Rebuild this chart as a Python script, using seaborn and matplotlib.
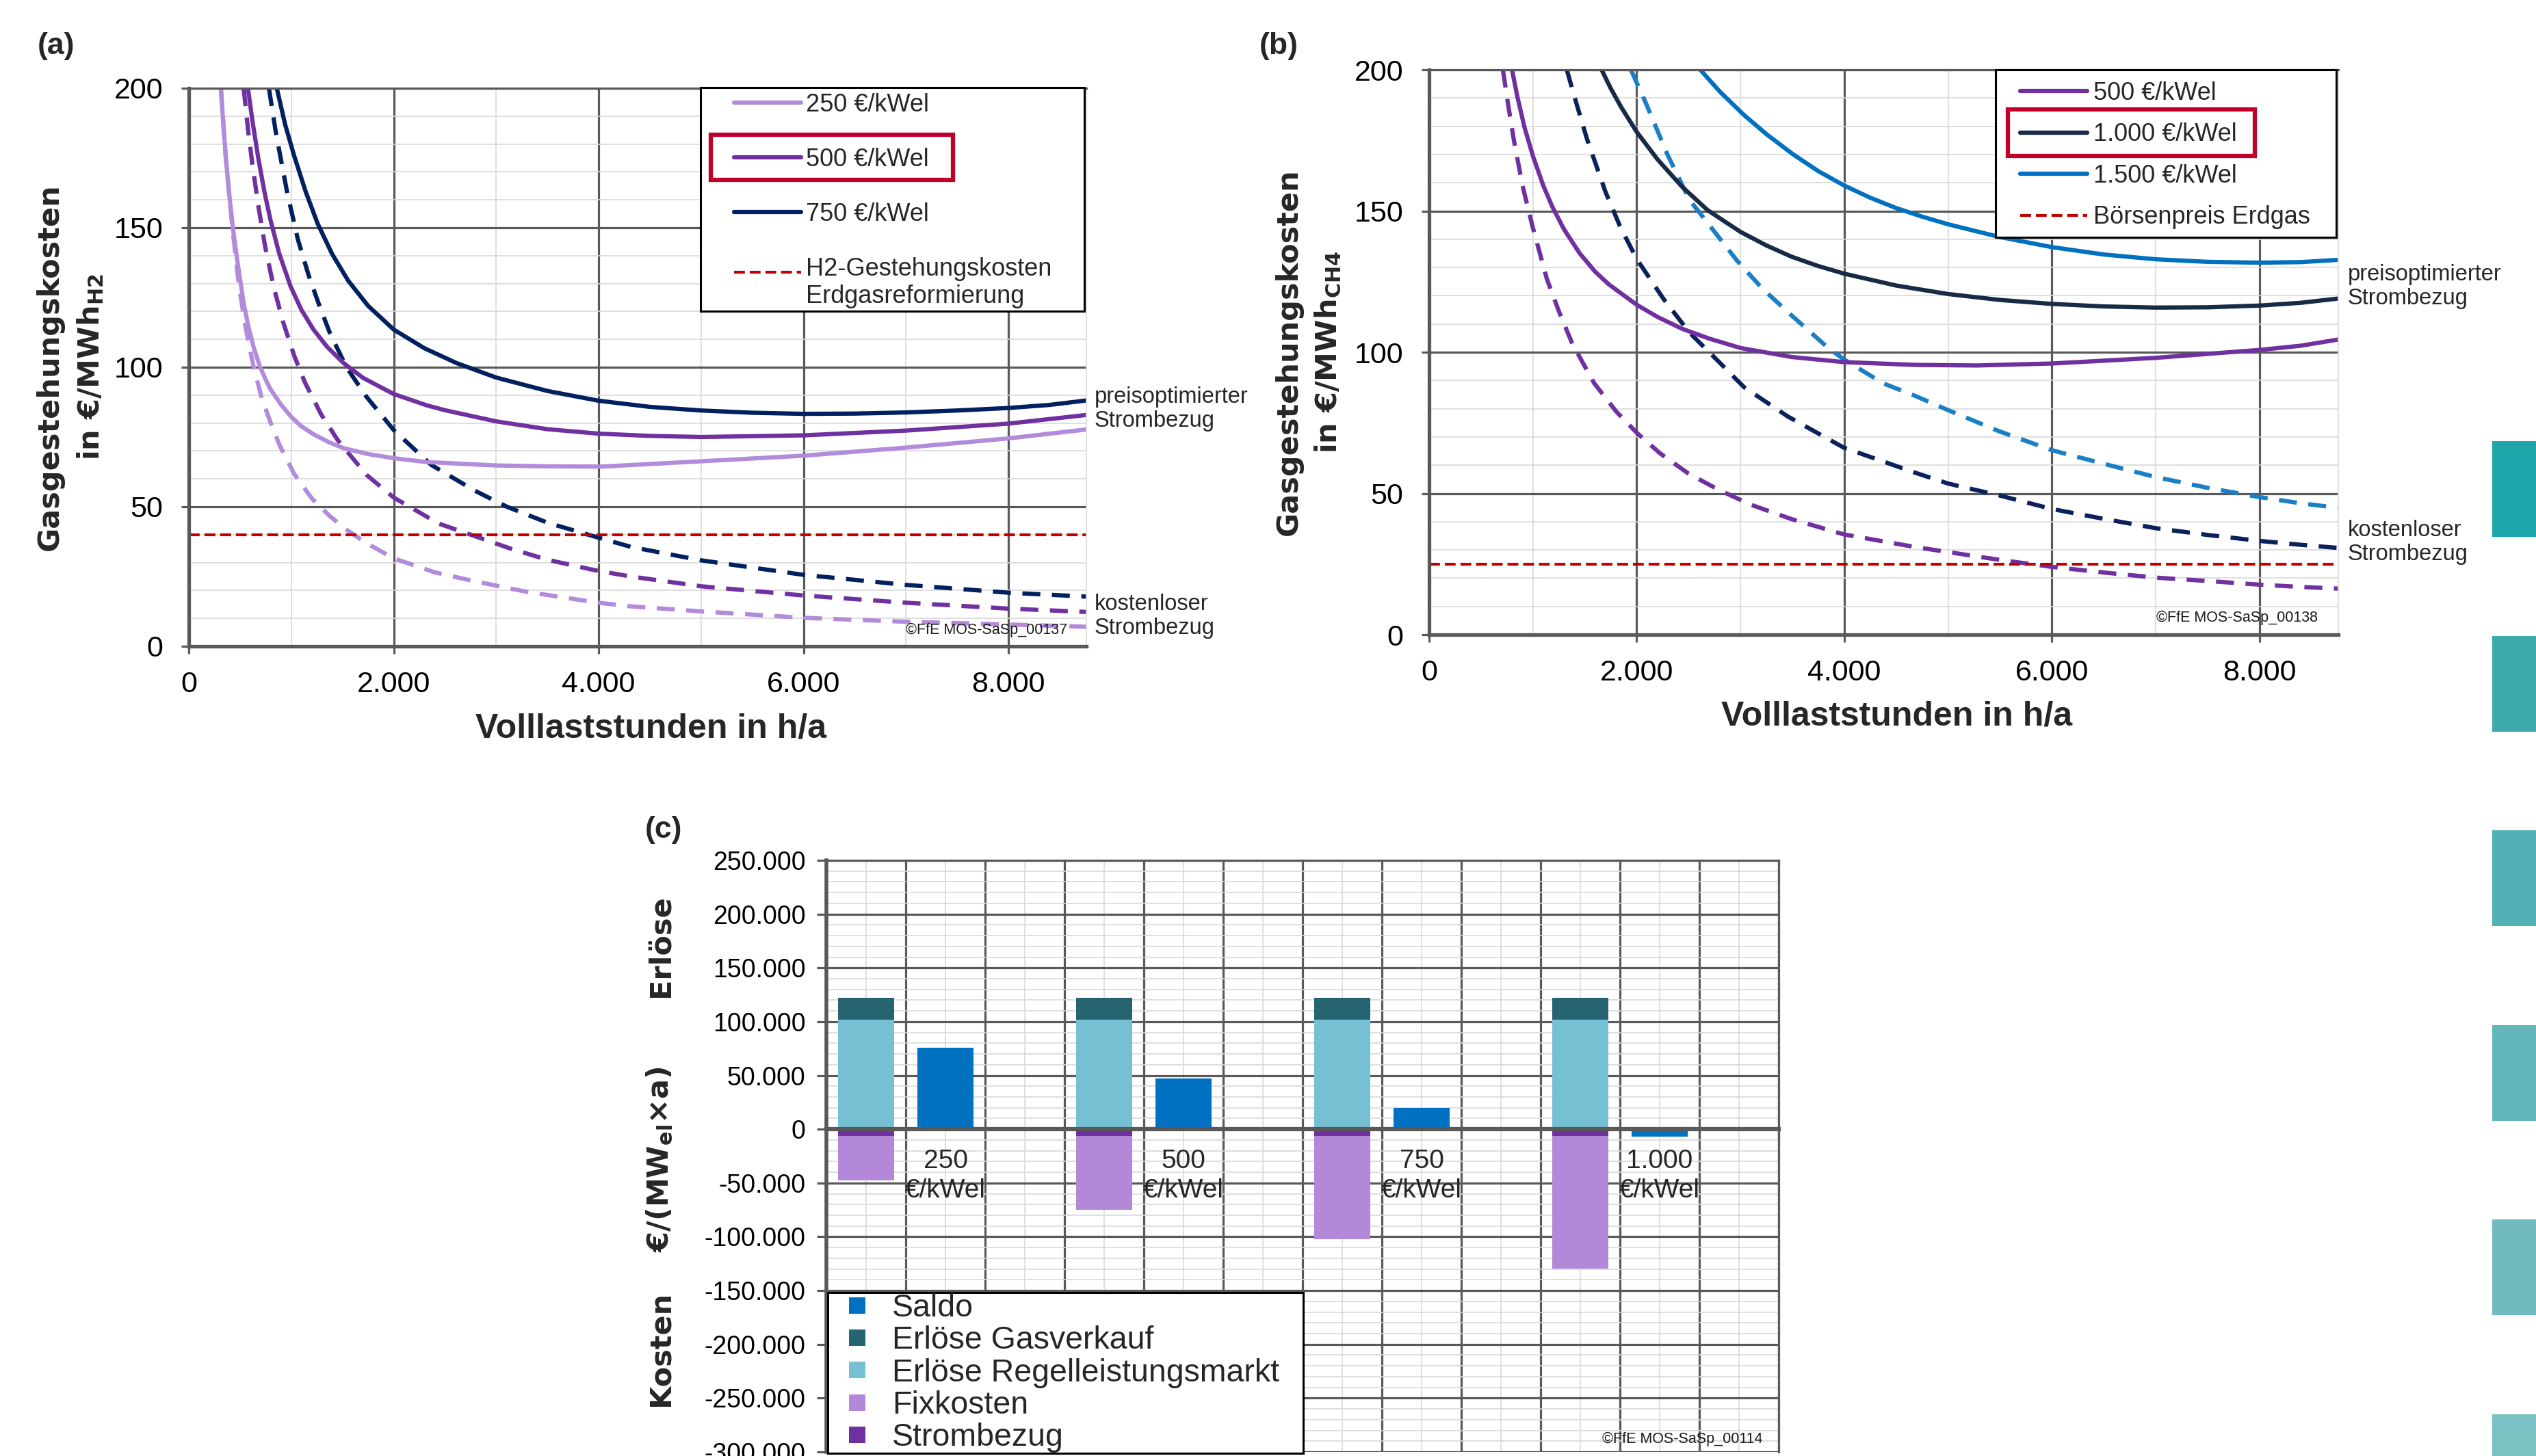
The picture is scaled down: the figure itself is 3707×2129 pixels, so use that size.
import numpy as np
import pandas as pd
import matplotlib
matplotlib.use("Agg")
import matplotlib.pyplot as plt
import seaborn as sns
from matplotlib.lines import Line2D
from matplotlib.patches import Rectangle
from matplotlib.ticker import MultipleLocator, FuncFormatter, NullFormatter

sns.set_style("white")
plt.rcParams["font.family"] = ["Liberation Sans", "DejaVu Sans"]
plt.rcParams["axes.unicode_minus"] = False
plt.rcParams["mathtext.fontset"] = "dejavusans"

W, H = 3707, 2129

# ---------------------------------------------------------
# DATA (a): H2 production cost vs. full-load hours
# ---------------------------------------------------------
a_opt_250_x = [313, 340, 370, 400, 430, 470, 535, 579, 630, 694, 760, 796, 900, 1000, 1100, 1230, 1370, 1510, 1750, 2000, 2327, 3000, 3500, 4031, 5000, 6000, 7000, 8000, 8760]
a_opt_250_y = [200, 185.4, 171.7, 160, 150, 139, 123, 115, 107.5, 100.2, 94.8, 92.2, 86.6, 82.2, 78.8, 75.7, 73.1, 71, 68.9, 67.4, 66, 64.8, 64.5, 64.4, 66.3, 68.3, 71.2, 74.5, 77.7]
a_opt_500_x = [577, 620, 680, 740, 799, 880, 993, 1100, 1217, 1350, 1510, 1700, 2000, 2327, 2500, 3000, 3500, 4000, 4500, 5000, 6000, 7000, 8000, 8760]
a_opt_500_y = [200, 188.5, 174.5, 162.5, 152.5, 141, 129, 120.5, 113.5, 107.3, 101.5, 96.2, 90.4, 86.3, 84.6, 80.6, 77.8, 76.2, 75.4, 75, 75.6, 77.3, 79.8, 82.9]
a_opt_750_x = [859, 940, 1028, 1140, 1257, 1400, 1556, 1750, 2000, 2300, 2613, 3000, 3500, 4000, 4500, 5000, 5500, 6000, 6500, 7000, 7500, 8000, 8400, 8760]
a_opt_750_y = [200, 187, 175.8, 163, 151.5, 140.5, 131, 122, 113.5, 106.8, 101.5, 96.3, 91.5, 88, 85.8, 84.5, 83.7, 83.3, 83.4, 83.8, 84.5, 85.4, 86.5, 88.1]

a_free_250_x = [313, 360, 430, 490, 553, 630, 711, 800, 887, 1028, 1200, 1380, 1550, 1732, 2000, 2400, 2789, 3300, 3996, 4317, 5000, 6000, 7000, 8000, 8760]
a_free_250_y = [200, 175, 148.5, 129, 114.5, 100.5, 89, 80, 72, 61.8, 53, 46.5, 41.5, 37, 31.5, 26.5, 23.3, 19.5, 15.6, 14.3, 12.5, 10.2, 8.8, 7.8, 7.0]
a_free_500_x = [535, 580, 623, 680, 746, 830, 922, 1030, 1134, 1290, 1451, 1732, 2000, 2437, 3141, 3500, 3996, 4317, 5000, 6000, 7000, 8000, 8760]
a_free_500_y = [200, 184.5, 172, 157.5, 143, 128.5, 116, 104, 94.5, 83.2, 74, 61.5, 53.3, 44, 35, 31, 27, 25, 21.5, 18.2, 15.6, 13.5, 12.3]
a_free_750_x = [782, 850, 958, 1063, 1169, 1280, 1380, 1539, 1732, 2000, 2366, 2789, 3105, 3500, 4000, 4317, 5000, 6000, 7000, 8000, 8760]
a_free_750_y = [200, 184, 163, 146, 133, 121.5, 112, 100, 89.5, 77.5, 65, 55.8, 50, 44.3, 38.9, 35.6, 30.8, 25.6, 22, 19.2, 17.8]

a_ref_h2 = 40
a_legend = ["250 €/kWel", "500 €/kWel", "750 €/kWel", "H2-Gestehungskosten\nErdgasreformierung"]

# ---------------------------------------------------------
# DATA (b): CH4 production cost vs. full-load hours
# ---------------------------------------------------------
b_opt_500_x = [799, 850, 920, 1000, 1100, 1187, 1300, 1451, 1600, 1732, 2000, 2200, 2437, 2700, 3000, 3493, 3996, 4686, 5278, 6000, 7000, 8000, 8400, 8760]
b_opt_500_y = [200, 190.5, 179.5, 169.5, 159, 151.5, 143.5, 135, 128.5, 124, 116.8, 112.5, 108.3, 104.8, 101.5, 98.3, 96.5, 95.5, 95.3, 96, 98, 100.8, 102.3, 104.5]
b_opt_1000_x = [1662, 1750, 1850, 2000, 2200, 2437, 2683, 3000, 3250, 3493, 3750, 4000, 4500, 5000, 5500, 6000, 6500, 7000, 7500, 8000, 8400, 8760]
b_opt_1000_y = [200, 193.4, 186.8, 178, 168.3, 158.6, 150.3, 142.6, 137.8, 133.8, 130.5, 127.8, 123.6, 120.6, 118.5, 117.1, 116.2, 115.8, 115.9, 116.5, 117.5, 119]
b_opt_1500_x = [2613, 2800, 3039, 3250, 3505, 3750, 4000, 4250, 4495, 4750, 5000, 5484, 6000, 6500, 7000, 7500, 8000, 8400, 8760]
b_opt_1500_y = [200, 192.3, 183.8, 177.2, 170.1, 164.1, 159, 154.7, 151.1, 148, 145.3, 140.9, 137.2, 134.6, 132.9, 132, 131.7, 131.9, 132.7]

b_free_500_x = [711, 760, 817, 900, 993, 1134, 1250, 1380, 1500, 1591, 1803, 2000, 2225, 2500, 2789, 3100, 3493, 3996, 4686, 5493, 6000, 6500, 7000, 7500, 8000, 8400, 8760]
b_free_500_y = [200, 188, 175, 159, 145, 126, 114.5, 103, 95, 89, 79, 71.5, 64.2, 57, 51.3, 46, 40.9, 35.5, 31, 26.5, 24, 22, 20.2, 19, 17.7, 16.9, 16.3]
b_free_1000_x = [1327, 1400, 1521, 1697, 1838, 2000, 2260, 2507, 2789, 3035, 3458, 3996, 4686, 5000, 5493, 6000, 6500, 7000, 7500, 8000, 8400, 8760]
b_free_1000_y = [200, 190.5, 175.5, 157, 144.7, 133, 118.8, 107, 96.7, 87.6, 77.2, 66.2, 57.3, 53.5, 49.3, 44.5, 41, 37.7, 35.3, 33.2, 31.8, 30.7]
b_free_1500_x = [1944, 2084, 2296, 2507, 2753, 2965, 3211, 3493, 3845, 3996, 4373, 4686, 5000, 5493, 6000, 6500, 7000, 7500, 8000, 8400, 8760]
b_free_1500_y = [200, 188.6, 170, 154, 142.5, 132.5, 122.5, 113, 101.5, 97.5, 89, 84.5, 79.5, 72, 65.3, 60.5, 55.8, 52, 48.7, 46.5, 44.9]

b_ref_gas = 25
b_legend = ["500 €/kWel", "1.000 €/kWel", "1.500 €/kWel", "Börsenpreis Erdgas"]

# ---------------------------------------------------------
# DATA (c): revenues and costs per MWel and year
# ---------------------------------------------------------
c_labels = ["250\n€/kWel", "500\n€/kWel", "750\n€/kWel", "1.000\n€/kWel"]
c_regel = [102000, 102000, 102000, 102000]
c_gas = [20000, 20000, 20000, 20000]
c_strom = [-6000, -6000, -6000, -6000]
c_fix = [-41500, -69000, -96000, -123500]
c_saldo = [76000, 47000, 20000, -7000]
c_legend = ["Saldo", "Erlöse Gasverkauf", "Erlöse Regelleistungsmarkt", "Fixkosten", "Strombezug"]

# ---------------------------------------------------------
# STYLE
# ---------------------------------------------------------
C250, C500, C750 = "#b38bdb", "#7030a0", "#002060"
C1000, C1000_D = "#172a46", "#0b215c"
C1500, C1500_D = "#0070c0", "#1a7fc5"
C_RED, C_HL = "#c00000", "#c00028"
C_SALDO, C_GAS, C_REGEL, C_FIX, C_STROM = "#0070c0", "#266472", "#76c0d4", "#b388d9", "#7030a0"
GRID_DARK, GRID_LIGHT = "#595959", "#d9d9d9"
LW = 4.5
DASH = (0, (4.2, 2.7))
RED_DASH = (0, (3.8, 1.7))
side_colors = ["#1fa6aa", "#3dabae", "#52b1b4", "#63b6b9", "#71bbbe", "#7bc0c3"]


def de_num(v, pos=None):
    return f"{v:,.0f}".replace(",", ".")


def fx(x):
    return x / W


def fy(y):
    return 1 - y / H


fig = plt.figure(figsize=(W / 100, H / 100), dpi=100)
fig.patch.set_facecolor("white")

ax_a = fig.add_axes([fx(276), fy(945), (1588 - 276) / W, (945 - 129) / H])
ax_b = fig.add_axes([fx(2089), fy(928), (3418 - 2089) / W, (928 - 102) / H])
ax_c = fig.add_axes([fx(1208), fy(2123), (2600 - 1208) / W, (2123 - 1258) / H])


def style_curve_axes(ax):
    ax.set_xlim(0, 8760)
    ax.set_ylim(0, 200)
    ax.set_xlabel("")
    ax.set_ylabel("")
    ax.xaxis.set_major_locator(MultipleLocator(2000))
    ax.xaxis.set_minor_locator(MultipleLocator(1000))
    ax.yaxis.set_major_locator(MultipleLocator(50))
    ax.yaxis.set_minor_locator(MultipleLocator(10))
    ax.xaxis.set_major_formatter(FuncFormatter(de_num))
    ax.yaxis.set_major_formatter(FuncFormatter(de_num))
    ax.grid(which="major", color=GRID_DARK, lw=2.3)
    ax.grid(which="minor", color=GRID_LIGHT, lw=1.2)
    ax.set_axisbelow(True)
    ax.tick_params(which="major", direction="out", length=8, width=2.3, color=GRID_DARK, labelsize=31,
                   labelcolor="black", left=True, bottom=True)
    ax.tick_params(axis="x", which="major", pad=18)
    ax.tick_params(axis="y", which="major", pad=19)
    ax.tick_params(which="minor", length=0)
    for side in ["left", "bottom"]:
        ax.spines[side].set_color(GRID_DARK)
        ax.spines[side].set_linewidth(3.8)
    ax.spines["top"].set_color(GRID_DARK)
    ax.spines["top"].set_linewidth(2.3)
    ax.spines["right"].set_color(GRID_LIGHT)
    ax.spines["right"].set_linewidth(1.2)


def curve(ax, xs, ys, color, ls="-"):
    sns.lineplot(x=xs, y=ys, ax=ax, color=color, linewidth=LW, linestyle=ls,
                 estimator=None, sort=False)


def framed_legend(ax, handles, labels, frame_px, anchor_px, labelspacing, handlelength, handletextpad):
    x0, y0, x1, y1 = frame_px
    ax.add_artist(Rectangle((fx(x0), fy(y1)), (x1 - x0) / W, (y1 - y0) / H, transform=fig.transFigure,
                            facecolor="white", edgecolor="black", lw=2.2, clip_on=False, zorder=4.8))
    leg = ax.legend(handles, labels, loc="upper left", bbox_to_anchor=(fx(anchor_px[0]), fy(anchor_px[1])),
                    bbox_transform=fig.transFigure, frameon=False, borderpad=0, borderaxespad=0,
                    fontsize=26, labelspacing=labelspacing, handlelength=handlelength,
                    handletextpad=handletextpad)
    leg.set_zorder(5)
    return leg


# ---------------------------------------------------------
# PANEL (a)
# ---------------------------------------------------------
curve(ax_a, a_free_250_x, a_free_250_y, C250, DASH)
curve(ax_a, a_free_500_x, a_free_500_y, C500, DASH)
curve(ax_a, a_free_750_x, a_free_750_y, C750, DASH)
curve(ax_a, a_opt_250_x, a_opt_250_y, C250)
curve(ax_a, a_opt_500_x, a_opt_500_y, C500)
curve(ax_a, a_opt_750_x, a_opt_750_y, C750)
ax_a.axhline(a_ref_h2, color=C_RED, lw=3, linestyle=RED_DASH)
style_curve_axes(ax_a)

h_a = [Line2D([], [], color=c, lw=LW) for c in (C250, C500, C750)]
h_a.append(Line2D([], [], color=C_RED, lw=3, linestyle=RED_DASH))
leg_a = framed_legend(ax_a, h_a, a_legend, (1024, 128, 1585, 455), (1073, 136), 1.245, 2.7, 0.22)

# ---------------------------------------------------------
# PANEL (b)
# ---------------------------------------------------------
curve(ax_b, b_free_500_x, b_free_500_y, C500, DASH)
curve(ax_b, b_free_1000_x, b_free_1000_y, C1000_D, DASH)
curve(ax_b, b_free_1500_x, b_free_1500_y, C1500_D, DASH)
curve(ax_b, b_opt_500_x, b_opt_500_y, C500)
curve(ax_b, b_opt_1000_x, b_opt_1000_y, C1000)
curve(ax_b, b_opt_1500_x, b_opt_1500_y, C1500)
ax_b.axhline(b_ref_gas, color=C_RED, lw=3, linestyle=RED_DASH)
style_curve_axes(ax_b)

h_b = [Line2D([], [], color=c, lw=LW) for c in (C500, C1000, C1500)]
h_b.append(Line2D([], [], color=C_RED, lw=3, linestyle=RED_DASH))
leg_b = framed_legend(ax_b, h_b, b_legend, (2917, 102, 3415, 347), (2953, 119), 0.705, 2.72, 0.25)

# ---------------------------------------------------------
# PANEL (c) - stacked bars via overlaid totals
# ---------------------------------------------------------
slot_order = [f"s{k}" for k in range(12)]
left_slots = [slot_order[3 * i] for i in range(len(c_labels))]
saldo_slots = [slot_order[3 * i + 1] for i in range(len(c_labels))]
df_left = pd.DataFrame({
    "slot": left_slots,
    "rev_top": [r + g for r, g in zip(c_regel, c_gas)],
    "regel": c_regel,
    "cost_bottom": [s + f for s, f in zip(c_strom, c_fix)],
    "strom": c_strom,
})
df_saldo = pd.DataFrame({"slot": saldo_slots, "saldo": c_saldo})

bar_kw = dict(order=slot_order, width=0.7, saturation=1, errorbar=None, linewidth=0, ax=ax_c)
sns.barplot(data=df_left, x="slot", y="rev_top", color=C_GAS, **bar_kw)
sns.barplot(data=df_left, x="slot", y="regel", color=C_REGEL, **bar_kw)
sns.barplot(data=df_left, x="slot", y="cost_bottom", color=C_FIX, **bar_kw)
sns.barplot(data=df_left, x="slot", y="strom", color=C_STROM, **bar_kw)
sns.barplot(data=df_saldo, x="slot", y="saldo", color=C_SALDO, **bar_kw)

ax_c.set_xlabel("")
ax_c.set_ylabel("")
ax_c.set_xlim(-0.5, 11.5)
ax_c.set_ylim(-300000, 250000)
ax_c.set_xticks(np.arange(-0.5, 12, 1))
ax_c.set_xticklabels([""] * 13)
ax_c.set_xticks(np.arange(0, 12, 1), minor=True)
ax_c.xaxis.set_minor_formatter(NullFormatter())
ax_c.yaxis.set_major_locator(MultipleLocator(50000))
ax_c.yaxis.set_minor_locator(MultipleLocator(10000))
ax_c.yaxis.set_major_formatter(FuncFormatter(de_num))
ax_c.grid(which="major", color=GRID_DARK, lw=2.3)
ax_c.grid(which="minor", color=GRID_LIGHT, lw=1.2)
ax_c.set_axisbelow(True)
ax_c.tick_params(which="major", direction="out", length=10, width=2.3, color=GRID_DARK, labelsize=27,
                 labelcolor="black", left=True, bottom=True)
ax_c.tick_params(axis="y", which="major", pad=12)
ax_c.tick_params(which="minor", length=0)
ax_c.spines["bottom"].set_position(("data", 0))
ax_c.spines["bottom"].set_linewidth(4.5)
ax_c.spines["left"].set_linewidth(4)
for side in ["top", "right"]:
    ax_c.spines[side].set_linewidth(2.3)
for side in ax_c.spines:
    ax_c.spines[side].set_color(GRID_DARK)

for i, lbl in enumerate(c_labels):
    ax_c.annotate(lbl, xy=(3 * i + 1, 0), xycoords="data", xytext=(0, -21), textcoords="offset points",
                  ha="center", va="top", fontsize=28, linespacing=1.22)

h_c = [Line2D([], [], ls="none", marker="s", markersize=17, markeredgewidth=0, color=c)
       for c in (C_SALDO, C_GAS, C_REGEL, C_FIX, C_STROM)]
leg_c = ax_c.legend(h_c, c_legend, loc="lower left", bbox_to_anchor=(2 / 1392, -2 / 865, 695 / 1392, 0.27),
                    mode="expand", borderaxespad=0, borderpad=0.02, fontsize=33.5, labelspacing=0.07,
                    handlelength=1.8, handletextpad=0.2, frameon=True, fancybox=False,
                    edgecolor="black", framealpha=1)
leg_c.get_frame().set_linewidth(2.2)

# ---------------------------------------------------------
# TEXTS
# ---------------------------------------------------------
ylab_kw = dict(rotation=90, ha="center", va="center", family="DejaVu Sans", weight="bold", size=31,
               linespacing=1.45)
fig.text(fx(103), fy(537), "Gasgestehungskosten\nin €/MWh$_{\\mathbf{H2}}$", **ylab_kw)
fig.text(fx(1913), fy(515), "Gasgestehungskosten\nin €/MWh$_{\\mathbf{CH4}}$", **ylab_kw)
fig.text(fx(965), fy(1383), "Erlöse", **ylab_kw)
fig.text(fx(965), fy(1695), "€/(MW$_{\\mathbf{el}}$×a)", **ylab_kw)
fig.text(fx(965), fy(1972), "Kosten", **ylab_kw)

fig.text(fx(952), fy(1066), "Volllaststunden in h/a", ha="center", va="center", size=36, weight="bold")
fig.text(fx(2773), fy(1048), "Volllaststunden in h/a", ha="center", va="center", size=36, weight="bold")

for lbl, x, y in [("(a)", 82, 67), ("(b)", 1869, 67), ("(c)", 970, 1214)]:
    fig.text(fx(x), fy(y), lbl, ha="center", va="center", size=32, weight="bold")

note_kw = dict(ha="left", va="center", size=23.5, color="#262626", linespacing=1.15)
fig.text(fx(1600), fy(598), "preisoptimierter\nStrombezug", **note_kw)
fig.text(fx(1600), fy(901), "kostenloser\nStrombezug", **note_kw)
fig.text(fx(3432), fy(419), "preisoptimierter\nStrombezug", **note_kw)
fig.text(fx(3432), fy(793), "kostenloser\nStrombezug", **note_kw)

copy_kw = dict(ha="right", va="center", size=15.5, color="#1a1a1a")
fig.text(fx(1560), fy(921), "©FfE MOS-SaSp_00137", **copy_kw)
fig.text(fx(3388), fy(903), "©FfE MOS-SaSp_00138", **copy_kw)
fig.text(fx(2577), fy(2104), "©FfE MOS-SaSp_00114", **copy_kw)

# decorative squares at the right edge
for i, col in enumerate(side_colors):
    top = 645 + i * 284.5
    fig.add_artist(Rectangle((fx(3643), fy(top + 140)), (W - 3643) / W, 140 / H,
                             transform=fig.transFigure, facecolor=col, edgecolor="none"))

# ---------------------------------------------------------
# HIGHLIGHT BOXES + handle tweak (need a drawn layout)
# ---------------------------------------------------------
fig.canvas.draw()
renderer = fig.canvas.get_renderer()

# put the dashed handle of the two-line entry next to its first line
ln = leg_a.get_lines()[3]
tb = leg_a.get_texts()[3].get_window_extent(renderer)
lb = ln.get_window_extent(renderer)
target = tb.y1 - 0.62 * 26 * 100 / 72
shift_pt = (target - (lb.y0 + lb.y1) / 2) * 72 / 100
ln.set_ydata(np.asarray(ln.get_ydata(), dtype=float) + shift_pt)


def highlight(ax, leg, idx, pad_l, pad_r, half_h):
    lb = leg.get_lines()[idx].get_window_extent(renderer)
    tb = leg.get_texts()[idx].get_window_extent(renderer)
    yc = (lb.y0 + lb.y1) / 2
    inv = fig.transFigure.inverted()
    (x0, y0), (x1, y1) = inv.transform([(lb.x0 - pad_l, yc - half_h), (tb.x1 + pad_r, yc + half_h)])
    ax.add_artist(Rectangle((x0, y0), x1 - x0, y1 - y0, transform=fig.transFigure, fill=False,
                            edgecolor=C_HL, lw=4.5, clip_on=False, zorder=6))


highlight(ax_a, leg_a, 1, 34, 35, 33)
highlight(ax_b, leg_b, 1, 18, 26, 34)

fig.savefig("out.png", dpi=100)
